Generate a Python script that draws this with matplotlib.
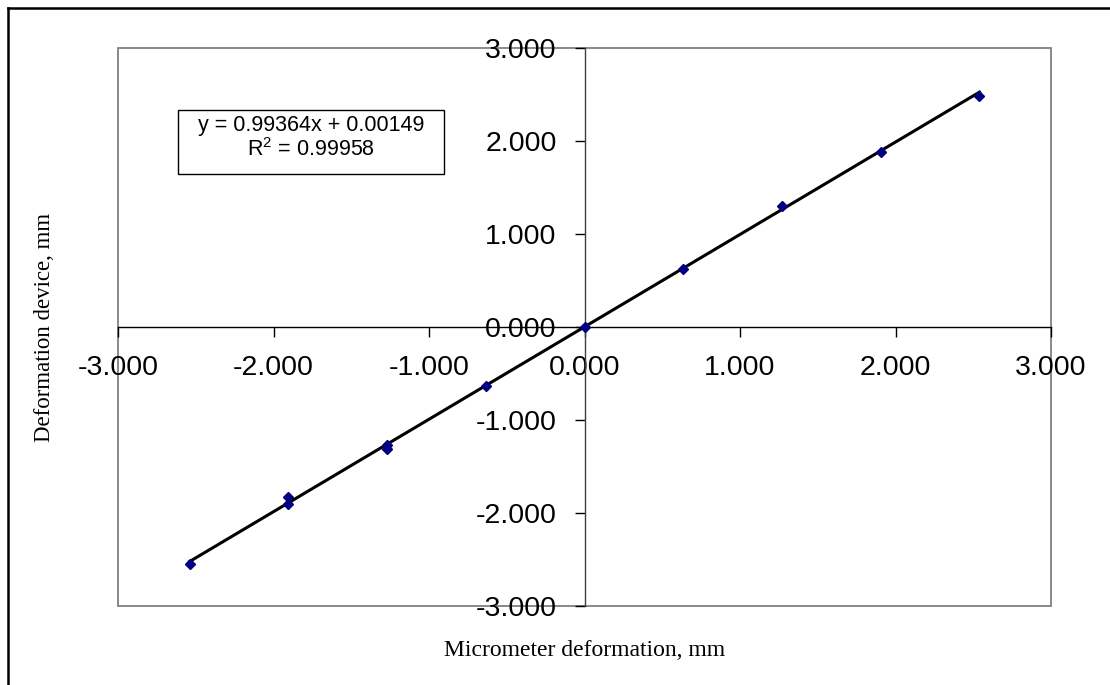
import matplotlib

matplotlib.use("Agg")
import matplotlib.pyplot as plt
import numpy as np
from matplotlib.lines import Line2D
from matplotlib.patches import Rectangle

plt.rcParams["mathtext.fontset"] = "custom"
plt.rcParams["mathtext.rm"] = "Liberation Sans"

# readings, mm
micrometer = [-2.540, -1.905, -1.905, -1.270, -1.270, -0.635, 0.000, 0.635, 1.270, 1.905, 2.540]
device = [-2.55, -1.83, -1.90, -1.27, -1.31, -0.63, 0.00, 0.62, 1.30, 1.88, 2.48]

# trendline as reported on the chart
slope = 0.99364
intercept = 0.00149
r_squared = 0.99958

ticks = [-3, -2, -1, 0, 1, 2, 3]
tick_labels = [f"{t:.3f}" for t in ticks]

W, H = 1110, 685
fig = plt.figure(figsize=(W / 100, H / 100), dpi=100)
ax = fig.add_axes([118 / W, 1 - 606 / H, (1051 - 118) / W, (606 - 48) / H])

# trendline
xs = np.array([min(micrometer), max(micrometer)])
ax.plot(xs, slope * xs + intercept, color="black", linewidth=2.2, zorder=3)
ax.plot(micrometer, device, linestyle="none", marker="D", markersize=5.5,
        color="#000080", zorder=4)

ax.set_xlim(-3, 3)
ax.set_ylim(-3, 3)

# axes crossing at zero, Excel style
for side in ("top", "right"):
    ax.spines[side].set_visible(False)
ax.spines["left"].set_position(("data", 0))
ax.spines["bottom"].set_position(("data", 0))
ax.spines["left"].set_color("#404040")
ax.spines["bottom"].set_color("black")
ax.spines["left"].set_linewidth(1.0)
ax.spines["bottom"].set_linewidth(1.0)

ax.set_xticks(ticks)
ax.set_xticklabels(tick_labels)
ax.set_yticks(ticks)
ax.set_yticklabels(tick_labels)
ax.tick_params(direction="out", length=7, width=1, pad=13, labelsize=20.5)
for lbl in ax.get_xticklabels() + ax.get_yticklabels():
    lbl.set_fontfamily("Liberation Sans")

# plot-area frame
ax.add_patch(Rectangle((0, 0), 1, 1, transform=ax.transAxes, fill=False,
                       edgecolor="#808080", linewidth=1.3, clip_on=False, zorder=0))

# axis titles
fig.text(585 / W, 1 - 651 / H, "Micrometer deformation, mm", ha="center", va="center",
         fontsize=17, family="Liberation Serif")
fig.text(45 / W, 1 - 327 / H, "Deformation device, mm", ha="center", va="center",
         rotation=90, fontsize=16.5, family="Liberation Serif")

# equation box
box_l, box_r, box_t, box_b = 178, 444, 110, 174
fig.add_artist(Rectangle((box_l / W, 1 - box_b / H), (box_r - box_l) / W, (box_b - box_t) / H,
                         transform=fig.transFigure, fill=False, edgecolor="black",
                         linewidth=1.0))
cx = (box_l + box_r) / 2 / W
fig.text(cx, 1 - 126 / H, f"y = {slope:.5f}x + {intercept:.5f}", ha="center",
         va="center", fontsize=15.5, family="Liberation Sans")
fig.text(cx, 1 - 150 / H, rf"R$^2$ = {r_squared:.5f}", ha="center",
         va="center", fontsize=15.5, family="Liberation Sans")

# outer chart border (left and top visible)
fig.add_artist(Line2D([8 / W, 8 / W], [0, 1 - 8 / H], transform=fig.transFigure,
                      color="black", linewidth=1.8))
fig.add_artist(Line2D([8 / W, 1], [1 - 8 / H, 1 - 8 / H], transform=fig.transFigure,
                      color="black", linewidth=1.8))

fig.savefig("out.png", dpi=100)
